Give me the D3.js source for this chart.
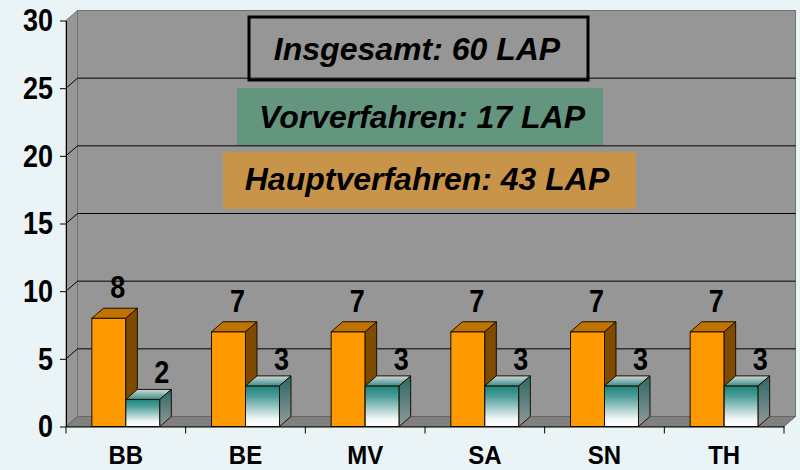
<!DOCTYPE html>
<html lang="de">
<head>
<meta charset="UTF-8">
<title>LAP je Land</title>
<script src="https://cdnjs.cloudflare.com/ajax/libs/d3/7.8.5/d3.min.js"></script>
<style>
    body { margin: 0; background: #eaf4f6; }
    svg { display: block; font-family: Arial, "Liberation Sans", sans-serif; }
    .tick text { font-weight: bold; fill: #000; }
</style>
</head>
<body>
<svg width="800" height="470"></svg>
<script>
// data
const categories = ["BB", "BE", "MV", "SA", "SN", "TH"];
const hauptverfahren = [8, 7, 7, 7, 7, 7];
const vorverfahren = [2, 3, 3, 3, 3, 3];
const yTicks = [0, 5, 10, 15, 20, 25, 30];
const legendLabels = ["Insgesamt: 60 LAP", "Vorverfahren: 17 LAP", "Hauptverfahren: 43 LAP"];

const svg = d3.select("svg");
const defs = svg.append("defs");

// 3d depth offset
const dx = 11.5, dy = -10;

const y = d3.scaleLinear().domain([0, 30]).range([426.5, 20.5]);
const x = d3.scaleBand().domain(categories).range([66, 784]);
const xs = d3.scaleBand().domain(["haupt", "vor"]).range([0, x.bandwidth()])
    .paddingInner(0).paddingOuter(0.76);

function grad(id, stops) {
    const g = defs.append("linearGradient").attr("id", id)
        .attr("x1", 0).attr("y1", 0).attr("x2", 0).attr("y2", 1);
    stops.forEach(s => g.append("stop").attr("offset", s[0]).attr("stop-color", s[1]));
}
grad("tealFront", [[0, "#1f847f"], [0.25, "#4a9c97"], [0.8, "#eef5f5"], [1, "#ffffff"]]);
grad("tealTop", [[0, "#d4dada"], [1, "#3a8e89"]]);
grad("tealSide", [[0, "#2a6865"], [1, "#959a9a"]]);

const y0 = y(0), yMax = y(30), xL = x.range()[0], xR = x.range()[1];

// walls and floor
svg.append("polygon")
    .attr("points", [[xL, yMax], [xL + dx, yMax + dy], [xL + dx, y0 + dy], [xL, y0]].join(" "))
    .attr("fill", "#979797").attr("stroke", "#6e6e6e");
svg.append("rect")
    .attr("x", xL + dx).attr("y", yMax + dy)
    .attr("width", xR - xL).attr("height", y0 - yMax)
    .attr("fill", "#969696").attr("stroke", "#727272");
svg.append("polygon")
    .attr("points", [[xL, y0], [xR, y0], [xR + dx, y0 + dy], [xL + dx, y0 + dy]].join(" "))
    .attr("fill", "#808080").attr("stroke", "#666");

// gridlines on back and side wall
const grid = svg.append("g").attr("stroke", "#000").attr("stroke-width", 1);
yTicks.filter(t => t > 0 && t < 30).forEach(t => {
    grid.append("line").attr("x1", xL + dx).attr("x2", xR + dx)
        .attr("y1", y(t) + dy).attr("y2", y(t) + dy);
    grid.append("line").attr("x1", xL).attr("x2", xL + dx)
        .attr("y1", y(t)).attr("y2", y(t) + dy);
});

// text boxes on the back wall
const boxes = [
    {x: 249, y: 17, w: 339, h: 63, fill: "none", stroke: "#000", tx: 417, ty: 60},
    {x: 237, y: 88, w: 366, h: 57, fill: "#64967f", stroke: "none", tx: 422, ty: 128},
    {x: 223, y: 152, w: 413, h: 57, fill: "#c8944a", stroke: "none", tx: 427, ty: 190}
];
boxes.forEach((b, i) => {
    svg.append("rect").attr("x", b.x).attr("y", b.y).attr("width", b.w).attr("height", b.h)
        .attr("fill", b.fill).attr("stroke", b.stroke).attr("stroke-width", 3);
    svg.append("text").attr("x", b.tx).attr("y", b.ty)
        .attr("text-anchor", "middle")
        .attr("font-size", 32).attr("font-weight", "bold").attr("font-style", "italic")
        .text(legendLabels[i]);
});

// bars
const series = [
    {key: "haupt", values: hauptverfahren, front: "#ff9900", top: "#c07300", side: "#7e4b00", ldx: 9, ldy: -20},
    {key: "vor", values: vorverfahren, front: "url(#tealFront)", top: "url(#tealTop)", side: "url(#tealSide)", ldx: 19, ldy: -16}
];
const bars = svg.append("g");
categories.forEach((c, i) => {
    series.forEach(s => {
        const v = s.values[i];
        const x0 = x(c) + xs(s.key), x1 = x0 + xs.bandwidth(), yt = y(v);
        const g = bars.append("g").attr("stroke", "#1a1000").attr("stroke-width", 1);
        g.append("rect").attr("x", x0).attr("y", yt)
            .attr("width", x1 - x0).attr("height", y0 - yt).attr("fill", s.front);
        g.append("polygon")
            .attr("points", [[x0, yt], [x0 + dx, yt + dy], [x1 + dx, yt + dy], [x1, yt]].join(" "))
            .attr("fill", s.top);
        g.append("polygon")
            .attr("points", [[x1, yt], [x1 + dx, yt + dy], [x1 + dx, y0 + dy], [x1, y0]].join(" "))
            .attr("fill", s.side);
    });
});

// value labels (font in the original is a little taller than Arial)
categories.forEach((c, i) => {
    series.forEach(s => {
        const v = s.values[i];
        const cx = x(c) + xs(s.key) + xs.bandwidth() / 2;
        svg.append("text")
            .attr("transform", `translate(${cx + s.ldx},${y(v) + s.ldy}) scale(1,1.15)`)
            .attr("text-anchor", "middle").attr("font-size", 27).attr("font-weight", "bold")
            .text(v);
    });
});

// y axis
const yAxis = svg.append("g").attr("transform", `translate(${xL},0)`)
    .call(d3.axisLeft(y).tickValues(yTicks).tickSize(6).tickSizeOuter(0).tickPadding(7));
yAxis.selectAll("text").attr("font-size", 27).attr("transform", "scale(1,1.18)");
yAxis.select(".domain").attr("stroke", "#000");

// x axis
const xAxis = svg.append("g").attr("transform", `translate(0,${y0})`)
    .call(d3.axisBottom(x).tickSize(0).tickSizeOuter(0).tickPadding(19));
xAxis.selectAll("text").attr("font-size", 24).attr("transform", "scale(1,1.05)");
xAxis.select(".domain").attr("stroke", "#000");
const bounds = categories.map(c => x(c)).concat([xR]);
xAxis.selectAll("line.sep").data(bounds).join("line").attr("class", "sep")
    .attr("x1", d => d).attr("x2", d => d).attr("y1", 0).attr("y2", 7).attr("stroke", "#000");
</script>
</body>
</html>
